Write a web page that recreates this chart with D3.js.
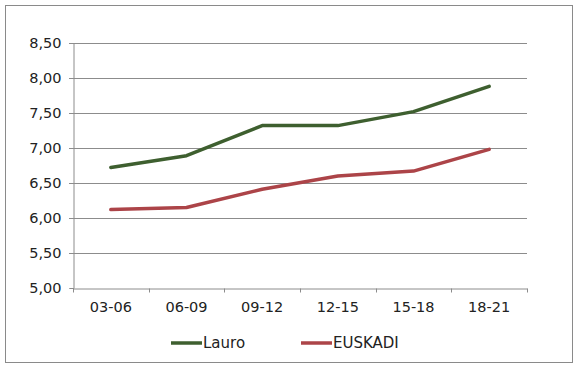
<!DOCTYPE html>
<html lang="es">
<head>
    <meta charset="UTF-8">
    <title>Lauro / EUSKADI</title>
    <script src="https://cdn.jsdelivr.net/npm/d3@7/dist/d3.min.js"></script>
    <style>
        body { margin: 0; background: #fff; }
        text { font-family: "DejaVu Sans", Verdana, sans-serif; fill: #222; }
    </style>
</head>
<body>
<div id="chart"></div>
<script>
    var categories = ["03-06", "06-09", "09-12", "12-15", "15-18", "18-21"];
    var lauro = [6.72, 6.89, 7.32, 7.32, 7.52, 7.88];
    var euskadi = [6.12, 6.15, 6.41, 6.60, 6.67, 6.98];
    var yTicks = [5.0, 5.5, 6.0, 6.5, 7.0, 7.5, 8.0, 8.5];

    var series = [
        {name: "Lauro", values: lauro, color: "#3e5f2f"},
        {name: "EUSKADI", values: euskadi, color: "#ac4448"}
    ];

    var width = 584, height = 371;
    var padding = {left: 73, right: 57, top: 43, bottom: 83};

    var svg = d3.select("#chart")
            .append("svg")
            .attr("width", width)
            .attr("height", height);

    // marco exterior
    svg.append("rect")
            .attr("x", 5.5).attr("y", 5.5)
            .attr("width", 567).attr("height", 357)
            .attr("fill", "none")
            .attr("stroke", "#8a8a8a")
            .attr("stroke-width", 1);

    var xScale = d3.scaleBand()
            .domain(categories)
            .range([padding.left, width - padding.right]);

    var yScale = d3.scaleLinear()
            .domain([5, 8.5])
            .range([height - padding.bottom, padding.top]);

    var fmt = function (d) { return d3.format(".2f")(d).replace(".", ","); };

    // lineas de rejilla
    svg.append("g")
            .selectAll("line")
            .data(yTicks.slice(1))
            .enter()
            .append("line")
            .attr("x1", padding.left - 4)
            .attr("x2", width - padding.right)
            .attr("y1", function (d) { return Math.round(yScale(d)) + 0.5; })
            .attr("y2", function (d) { return Math.round(yScale(d)) + 0.5; })
            .attr("stroke", "#8c8c8c")
            .attr("stroke-width", 1);

    // eje Y
    var yAxis = d3.axisLeft(yScale)
            .tickValues(yTicks)
            .tickFormat(fmt)
            .tickSize(4)
            .tickPadding(8);

    var gy = svg.append("g")
            .attr("transform", "translate(" + (padding.left + 0.5) + ",0)")
            .call(yAxis);
    gy.select(".domain").attr("stroke", "#8c8c8c");
    gy.selectAll(".tick line").attr("stroke", "#8c8c8c");
    gy.selectAll(".tick text").style("font-size", "14.5px").attr("fill", "#222");

    // eje X
    var xAxis = d3.axisBottom(xScale)
            .tickSize(0)
            .tickPadding(13);

    var gx = svg.append("g")
            .attr("transform", "translate(0," + (Math.round(yScale(5)) + 0.5) + ")")
            .call(xAxis);
    gx.select(".domain").attr("stroke", "#8c8c8c");
    gx.selectAll(".tick text").style("font-size", "14.5px").attr("fill", "#222");

    // marcas entre categorias
    gx.selectAll(".sep")
            .data(d3.range(categories.length + 1))
            .enter()
            .append("line")
            .attr("class", "sep")
            .attr("x1", function (i) { return Math.round(padding.left + i * xScale.step()) + 0.5; })
            .attr("x2", function (i) { return Math.round(padding.left + i * xScale.step()) + 0.5; })
            .attr("y1", 0)
            .attr("y2", 4)
            .attr("stroke", "#8c8c8c");

    // series
    var line = d3.line()
            .x(function (d, i) { return xScale(categories[i]) + xScale.bandwidth() / 2; })
            .y(function (d) { return yScale(d); });

    svg.selectAll(".serie")
            .data(series)
            .enter()
            .append("path")
            .attr("class", "serie")
            .attr("d", function (s) { return line(s.values); })
            .attr("fill", "none")
            .attr("stroke", function (s) { return s.color; })
            .attr("stroke-width", 3.5)
            .attr("stroke-linejoin", "round")
            .attr("stroke-linecap", "round");

    // leyenda
    var legendX = [171, 301];
    var legend = svg.selectAll(".leg")
            .data(series)
            .enter()
            .append("g")
            .attr("class", "leg")
            .attr("transform", function (s, i) { return "translate(" + legendX[i] + ",343)"; });

    legend.append("line")
            .attr("x1", 0).attr("x2", 31)
            .attr("y1", 0).attr("y2", 0)
            .attr("stroke", function (s) { return s.color; })
            .attr("stroke-width", 3.5);

    legend.append("text")
            .attr("x", 32)
            .attr("y", 0)
            .attr("dy", "0.35em")
            .style("font-size", "15px")
            .attr("fill", "#111")
            .text(function (s) { return s.name; });
</script>
</body>
</html>
